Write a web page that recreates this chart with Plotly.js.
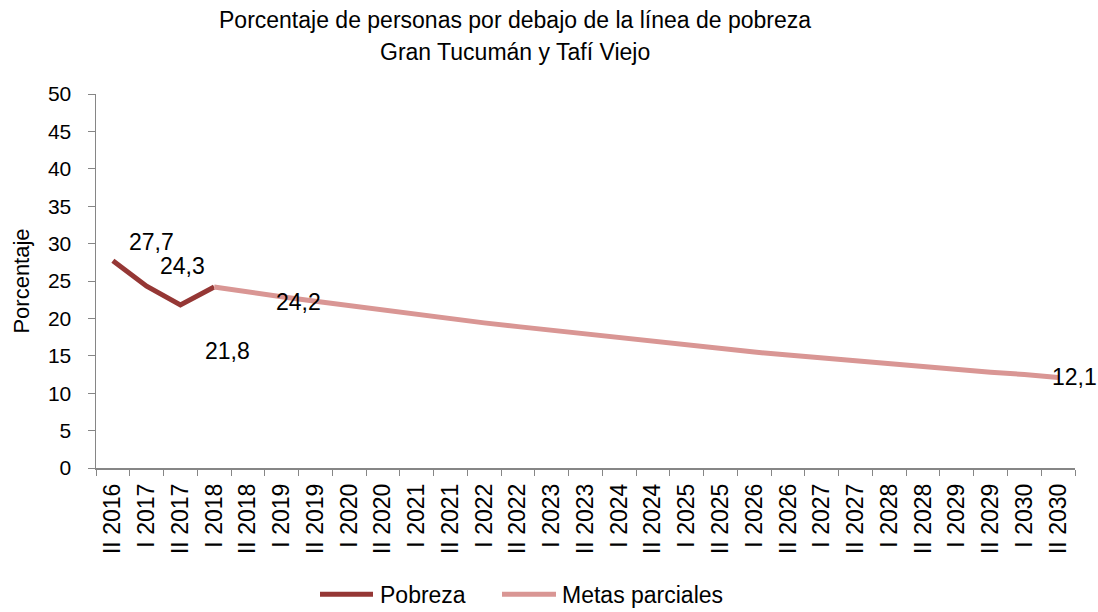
<!DOCTYPE html>
<html>
<head>
<meta charset="utf-8">
<script src="https://cdn.plot.ly/plotly-3.0.1.min.js"></script>
<style>html,body{margin:0;padding:0;background:#fff}#chart{width:1098px;height:612px}</style>
</head>
<body>
<div id="chart"></div>
<script>
const categories = ["II 2016","I 2017","II 2017","I 2018","II 2018","I 2019","II 2019","I 2020","II 2020","I 2021","II 2021","I 2022","II 2022","I 2023","II 2023","I 2024","II 2024","I 2025","II 2025","I 2026","II 2026","I 2027","II 2027","I 2028","II 2028","I 2029","II 2029","I 2030","II 2030"];
const pobrezaCats = ["II 2016","I 2017","II 2017","I 2018"];
const pobreza = [27.7, 24.3, 21.8, 24.2];
const metasCats = categories.slice(3);
const metas = [24.2, 23.5, 22.9, 22.3, 21.7, 21.1, 20.5, 19.9, 19.4, 18.9, 18.4, 17.9, 17.4, 16.9, 16.4, 16.0, 15.5, 15.1, 14.7, 14.3, 13.9, 13.5, 13.2, 12.8, 12.5, 12.1];
const labelTexts = ["27,7","24,3","21,8","24,2"];
const seriesNames = ["Pobreza","Metas parciales"];
const seriesColors = ["#953735","#d99694"];
const titleLines = ["Porcentaje de personas por debajo de la línea de pobreza","Gran Tucumán y Tafí Viejo"];
const FONT = "Liberation Sans, Arial, sans-serif";

const traces = [
  {x: pobrezaCats, y: pobreza, type: "scatter", mode: "lines", name: seriesNames[0],
   line: {color: seriesColors[0], width: 5}},
  {x: metasCats, y: metas, type: "scatter", mode: "lines", name: seriesNames[1],
   line: {color: seriesColors[1], width: 5}}
];

const shifts = [[39,19],[36,20],[47,-46],[84,-15]];
const annotations = pobreza.map((v,i)=>({
  x: pobrezaCats[i], y: v, xref: "x", yref: "y", text: labelTexts[i],
  showarrow: false, xshift: shifts[i][0], yshift: shifts[i][1],
  font: {family: FONT, size: 23, color: "#000"}
}));
annotations.push({
  x: metasCats[metasCats.length-1], y: metas[metas.length-1], xref: "x", yref: "y",
  text: "12,1", showarrow: false, xanchor: "left", xshift: -8, yshift: 0,
  font: {family: FONT, size: 23, color: "#000"}
});

// plot area: x 96..1075, y 94..468.5 px
const px2x = p => (p - 96) / 979;
const px2y = p => (468.5 - p) / 374.5;

// title (two centred lines)
const titleY = [20, 52];
titleLines.forEach((t, i) => {
  annotations.push({xref: "paper", yref: "paper", x: px2x(515), y: px2y(titleY[i]),
    xanchor: "center", yanchor: "middle", text: t, showarrow: false,
    font: {family: FONT, size: 23, color: "#000"}});
});

// manual legend
const legY = px2y(595);
const legLines = [[320, 373], [502, 556]];
const legText = [378, 560];
const shapes = [];
seriesNames.forEach((n, i) => {
  shapes.push({type: "line", xref: "paper", yref: "paper",
    x0: px2x(legLines[i][0]), x1: px2x(legLines[i][1]), y0: legY, y1: legY,
    line: {color: seriesColors[i], width: 5}});
  annotations.push({xref: "paper", yref: "paper", x: px2x(legText[i]), y: legY,
    xanchor: "left", yanchor: "middle", text: n, showarrow: false, yshift: -1,
    font: {family: FONT, size: 23, color: "#000"}});
});

const layout = {
  width: 1098, height: 612,
  paper_bgcolor: "#fff", plot_bgcolor: "#fff",
  margin: {l: 96, r: 23, t: 94, b: 143.5},
  font: {family: FONT, color: "#000"},
  xaxis: {type: "category", categoryorder: "array", categoryarray: categories,
          range: [-0.5, 28.5], tickson: "boundaries", ticks: "outside", ticklen: 6,
          tickcolor: "#868686", showline: true, linecolor: "#868686", linewidth: 1.5,
          showgrid: false, zeroline: false, tickangle: -90, ticklabelstandoff: 5,
          tickfont: {family: FONT, size: 23, color: "#000"}},
  yaxis: {range: [0, 50], dtick: 5, ticks: "outside", ticklen: 7, tickcolor: "#868686",
          showline: true, linecolor: "#868686", linewidth: 1.5, showgrid: false, zeroline: false,
          ticklabelstandoff: 12,
          tickfont: {family: FONT, size: 21, color: "#000"},
          title: {text: "Porcentaje", standoff: 12, font: {family: FONT, size: 22, color: "#000"}}},
  showlegend: false,
  shapes: shapes,
  annotations: annotations
};

Plotly.newPlot("chart", traces, layout, {displayModeBar: false, staticPlot: true});
</script>
</body>
</html>
